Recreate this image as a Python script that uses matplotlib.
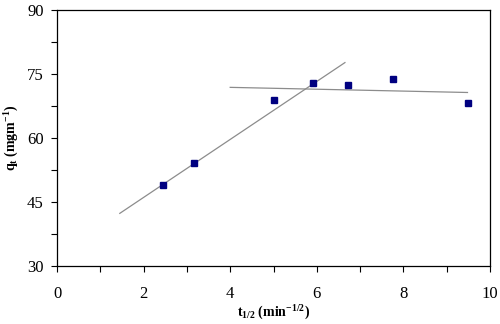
import matplotlib
matplotlib.use("Agg")
import matplotlib.pyplot as plt
from matplotlib.ticker import MultipleLocator

plt.rcParams['font.family'] = ['Liberation Serif', 'DejaVu Serif']
plt.rcParams['mathtext.fontset'] = 'custom'
plt.rcParams['mathtext.rm'] = 'Liberation Serif'
plt.rcParams['mathtext.bf'] = 'Liberation Serif:bold'
plt.rcParams['mathtext.it'] = 'Liberation Serif:italic'

# data
t_half = [2.45, 3.16, 5.0, 5.92, 6.71, 7.75, 9.49]
qt = [49.1, 54.1, 69.0, 72.9, 72.4, 73.9, 68.3]

# fitted lines (endpoints)
fit1_x = [1.45, 6.65]
fit1_y = [42.4, 77.7]
fit2_x = [4.0, 9.48]
fit2_y = [71.9, 70.7]

fig = plt.figure(figsize=(5.0, 3.24), dpi=100)
ax = fig.add_axes([0.114, 0.178, 0.866, 0.791])

ax.plot(fit1_x, fit1_y, color='#8c8c8c', lw=0.9)
ax.plot(fit2_x, fit2_y, color='#8c8c8c', lw=0.9)
ax.plot(t_half, qt, linestyle='none', marker='s', markersize=5,
        color='#000080', markeredgecolor='#000080')

ax.set_xlim(0, 10)
ax.set_ylim(30, 90)
ax.xaxis.set_major_locator(MultipleLocator(2))
ax.xaxis.set_minor_locator(MultipleLocator(1))
ax.yaxis.set_major_locator(MultipleLocator(15))
ax.yaxis.set_minor_locator(MultipleLocator(7.5))
ax.tick_params(which='both', direction='out', length=4.5, width=0.8, labelsize=12)
ax.tick_params(axis='y', which='both', pad=5)
ax.tick_params(axis='x', which='both', pad=10)
for s in ax.spines.values():
    s.set_linewidth(0.9)

ax.set_xlabel(r'$\mathbf{t_{1/2}\ (min^{-1/2})}$', fontsize=10, labelpad=1)
ax.set_ylabel(r'$\mathbf{q_t\ (mgm^{-1})}$', fontsize=10, labelpad=4)

fig.savefig('out.png', dpi=100)
